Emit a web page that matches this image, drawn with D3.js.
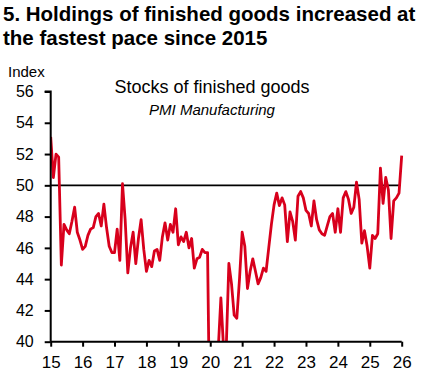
<!DOCTYPE html>
<html>
<head>
<meta charset="utf-8">
<script src="https://cdn.jsdelivr.net/npm/d3@7"></script>
<style>
  html, body { margin: 0; padding: 0; background: #fff; }
  svg { display: block; font-family: "Liberation Sans", Arial, sans-serif; }
</style>
</head>
<body>
<svg id="chart" width="422" height="372"></svg>
<script>
// ---- data (monthly, Jan 2015 .. Jan 2026) ----
const startYear = 2015;
const stocksIndex = [
  53.1, 50.5, 52.0, 51.8, 44.9, 47.5, 47.15, 46.9, 47.7, 48.6, 47.0, 46.5,
  45.9, 46.1, 46.8, 47.2, 47.3, 48.0, 48.2, 47.4, 48.8, 47.3, 46.1, 45.7,
  45.7, 47.2, 45.2, 50.1, 47.8, 44.4, 46.0, 47.0, 45.0, 46.6, 47.8, 45.9,
  44.5, 45.2, 44.8, 45.8, 45.9, 45.2, 46.7, 47.6, 46.5, 47.5, 47.0, 48.5,
  46.2, 46.7, 46.4, 47.0, 46.0, 46.6, 44.7, 45.3, 45.4, 45.9, 45.7, 45.7,
  32.0, 36.0, 38.0, 39.5, 42.8, 39.6, 39.5, 45.0, 43.7, 41.7, 41.5, 44.0,
  47.0, 46.1, 43.4, 44.5, 45.3, 44.5, 43.7, 44.1, 44.7, 44.5, 46.0, 47.5,
  48.75, 49.5, 48.7, 49.2, 48.75, 46.4, 48.3, 47.7, 46.5, 49.3, 49.6, 49.2,
  48.4, 48.2, 47.4, 49.0, 47.8, 47.15, 46.9, 46.8, 47.4, 48.0, 48.2, 47.0,
  48.5, 47.0, 49.2, 49.6, 49.1, 48.2, 48.6, 50.2, 49.1, 46.3, 47.1, 46.1,
  44.7, 46.8, 46.6, 46.9, 51.1, 48.85, 50.5, 49.7, 46.6, 49.0, 49.2, 49.5,
  51.9
];
const yTicks = [40, 42, 44, 46, 48, 50, 52, 54, 56];
const xTickYears = [2015, 2016, 2017, 2018, 2019, 2020, 2021, 2022, 2023, 2024, 2025, 2026];
const xTickLabels = ["15", "16", "17", "18", "19", "20", "21", "22", "23", "24", "25", "26"];
const referenceLevel = 50;
const titleLines = ["5. Holdings of finished goods increased at", "the fastest pace since 2015"];
const chartTitle = "Stocks of finished goods";
const chartSubtitle = "PMI Manufacturing";
const yUnit = "Index";

// ---- layout ----
const svg = d3.select("#chart");
const plotL = 50.7, plotR = 401.7, plotT = 91.5, plotB = 341.7;
const red = "#d8001c";

const x = d3.scaleLinear().domain([2015, 2026]).range([plotL, plotR]);
const y = d3.scaleLinear().domain([40, 56]).range([plotB, plotT]);

const points = stocksIndex.map((v, i) => ({ t: startYear + i / 12, v }));

// title
const title = svg.append("text")
  .attr("x", 3).attr("y", 20.7)
  .attr("font-size", 20.5).attr("font-weight", "bold").attr("fill", "#000");
titleLines.forEach((ln, i) => {
  title.append("tspan").attr("x", 3).attr("y", 20.7 + i * 24.3).text(ln);
});

// clip
svg.append("clipPath").attr("id", "plotclip")
  .append("rect").attr("x", plotL).attr("y", plotT - 20)
  .attr("width", plotR - plotL + 10).attr("height", plotB - plotT + 20);

// reference line at 50
svg.append("line")
  .attr("x1", plotL).attr("x2", 400)
  .attr("y1", y(referenceLevel)).attr("y2", y(referenceLevel))
  .attr("stroke", "#000").attr("stroke-width", 1.6);

// series line
const lineGen = d3.line().x(d => x(d.t)).y(d => y(d.v));
svg.append("path")
  .datum(points)
  .attr("clip-path", "url(#plotclip)")
  .attr("fill", "none")
  .attr("stroke", red)
  .attr("stroke-width", 2.8)
  .attr("stroke-linejoin", "round")
  .attr("d", lineGen);

// y axis
const yAxis = d3.axisLeft(y).tickValues(yTicks).tickSize(6).tickPadding(11).tickFormat(d3.format("d"));
const gy = svg.append("g").attr("transform", `translate(${plotL},0)`).call(yAxis);
gy.select(".domain").attr("stroke", "#000").attr("stroke-width", 2).attr("d", `M-6,${plotT}H0V${plotB}`);
gy.selectAll(".tick line").attr("stroke", "#000").attr("stroke-width", 2);
gy.selectAll(".tick text").attr("font-size", 16).attr("fill", "#000")
  .attr("font-family", '"Liberation Sans", Arial, sans-serif');

// x axis
const xAxis = d3.axisBottom(x).tickValues(xTickYears).tickSize(5).tickPadding(9)
  .tickFormat((d, i) => xTickLabels[i]);
const gx = svg.append("g").attr("transform", `translate(0,${plotB})`).call(xAxis);
gx.select(".domain").attr("stroke", "#000").attr("stroke-width", 2).attr("d", `M${plotL},0H${plotR}`);
gx.selectAll(".tick line").attr("stroke", "#000").attr("stroke-width", 2);
gx.selectAll(".tick text").attr("font-size", 17).attr("fill", "#000")
  .attr("font-family", '"Liberation Sans", Arial, sans-serif');

// unit label
svg.append("text").attr("x", 8).attr("y", 76.7).attr("font-size", 15).attr("fill", "#000").text(yUnit);

// in-chart titles
svg.append("text").attr("x", 212).attr("y", 93.3).attr("text-anchor", "middle")
  .attr("font-size", 18).attr("fill", "#000").text(chartTitle);
svg.append("text").attr("x", 212).attr("y", 114.5).attr("text-anchor", "middle")
  .attr("font-size", 15).attr("font-style", "italic").attr("fill", "#000").text(chartSubtitle);
</script>
</body>
</html>
